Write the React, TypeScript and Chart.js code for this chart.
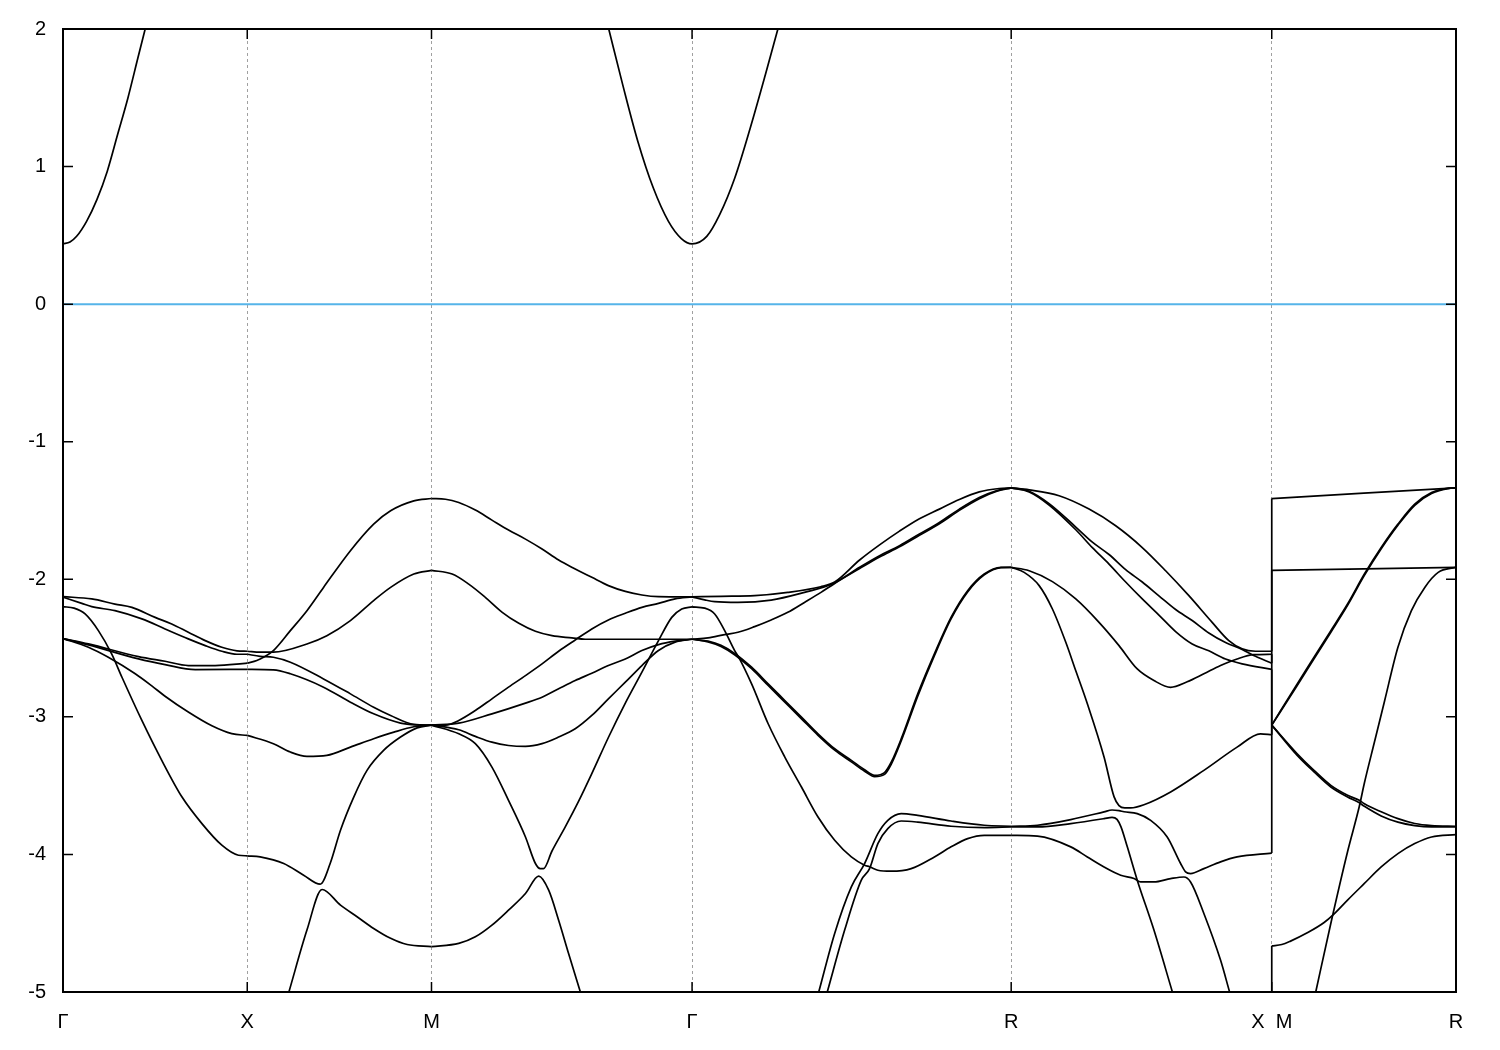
import React, { useEffect, useRef } from 'react';
import { Chart, registerables } from 'chart.js';

Chart.register(...registerables);

type P = [number, number];

// high-symmetry path (cumulative |k| distance) and labels
const kPoints = [0, 0.5, 1.0, 1.7071, 2.5731, 3.2802, 3.7802];
const kLabels = ['Γ', 'X', 'M', 'Γ', 'R', 'X\u00a0\u00a0M', 'R'];
const energyTicks = [-5, -4, -3, -2, -1, 0, 1, 2];
const fermiLevel = 0;

// ---- conduction band ----
const cbGX: P[] = [[0, 0.438], [0.019, 0.452], [0.037, 0.493], [0.064, 0.602], [0.092, 0.76], [0.12, 0.965], [0.148, 1.231], [0.176, 1.497], [0.203, 1.787], [0.223, 2.0]];
const cbMGR: P[] = [[1.481, 2.0], [1.519, 1.594], [1.56, 1.183], [1.602, 0.844], [1.643, 0.602], [1.678, 0.477], [1.7071, 0.438], [1.747, 0.493], [1.782, 0.651], [1.823, 0.917], [1.865, 1.28], [1.906, 1.667], [1.94, 2.0]];

// ---- valence bands: Γ–X ----
const vGX_a: P[] = [[0, -2.126], [0.078, -2.143], [0.141, -2.18], [0.187, -2.204], [0.25, -2.277], [0.295, -2.325], [0.34, -2.385], [0.386, -2.446], [0.431, -2.494], [0.472, -2.52], [0.5, -2.523]];
const vGX_b: P[] = [[0, -2.13], [0.051, -2.175], [0.078, -2.199], [0.141, -2.228], [0.214, -2.288], [0.277, -2.361], [0.34, -2.433], [0.386, -2.482], [0.431, -2.523], [0.472, -2.545], [0.5, -2.545]];
const vGX_c: P[] = [[0, -2.199], [0.03, -2.21], [0.06, -2.252], [0.096, -2.373], [0.132, -2.542], [0.16, -2.712], [0.214, -3.026], [0.268, -3.316], [0.323, -3.583], [0.377, -3.776], [0.431, -3.933], [0.476, -4.006], [0.5, -4.01]];
const vGX_d: P[] = [[0, -2.431], [0.069, -2.47], [0.205, -2.562], [0.277, -2.596], [0.34, -2.627], [0.413, -2.627], [0.5, -2.61]];
const vGX_e: P[] = [[0, -2.431], [0.069, -2.477], [0.205, -2.579], [0.277, -2.62], [0.359, -2.656], [0.5, -2.655]];
const vGX_f: P[] = [[0, -2.431], [0.069, -2.494], [0.123, -2.567], [0.196, -2.687], [0.241, -2.775], [0.277, -2.85], [0.34, -2.965], [0.404, -3.065], [0.458, -3.122], [0.5, -3.135]];

// ---- X–M ----
const vXM_a: P[] = [[0.5, -2.523], [0.535, -2.53], [0.571, -2.53], [0.662, -2.47], [0.716, -2.41], [0.78, -2.3], [0.843, -2.155], [0.889, -2.059], [0.952, -1.962], [1.0, -1.935]];
const vXM_b: P[] = [[0.5, -2.545], [0.535, -2.56], [0.571, -2.567], [0.617, -2.603], [0.707, -2.724], [0.78, -2.833], [0.843, -2.93], [0.889, -2.99], [0.952, -3.055], [1.0, -3.06]];
const vXM_c: P[] = [[0.5, -4.01], [0.535, -4.018], [0.599, -4.066], [0.653, -4.151], [0.698, -4.216], [0.725, -4.066], [0.753, -3.824], [0.789, -3.583], [0.825, -3.389], [0.87, -3.244], [0.916, -3.147], [0.961, -3.08], [1.0, -3.06]];
const vXM_d: P[] = [[0.5, -2.61], [0.526, -2.59], [0.544, -2.567], [0.571, -2.518], [0.617, -2.373], [0.662, -2.228], [0.707, -2.059], [0.78, -1.792], [0.843, -1.599], [0.889, -1.502], [0.952, -1.43], [1.0, -1.413]];
const vXM_e: P[] = [[0.5, -2.655], [0.571, -2.658], [0.617, -2.687], [0.707, -2.784], [0.78, -2.893], [0.843, -2.978], [0.916, -3.045], [0.961, -3.058], [1.0, -3.06]];
const vXM_f: P[] = [[0.5, -3.135], [0.571, -3.195], [0.617, -3.256], [0.662, -3.287], [0.716, -3.28], [0.78, -3.22], [0.843, -3.159], [0.898, -3.111], [0.952, -3.072], [1.0, -3.06]];
const vXM_g: P[] = [[0.613, -5.0], [0.662, -4.55], [0.703, -4.255], [0.753, -4.369], [0.798, -4.453], [0.843, -4.538], [0.889, -4.61], [0.934, -4.655], [1.0, -4.67]];

// ---- M–Γ ----
const vMG_a: P[] = [[1.0, -1.413], [1.038, -1.418], [1.074, -1.442], [1.119, -1.497], [1.164, -1.57], [1.209, -1.642], [1.255, -1.708], [1.3, -1.78], [1.345, -1.86], [1.39, -1.925], [1.435, -1.986], [1.48, -2.046], [1.526, -2.088], [1.571, -2.114], [1.616, -2.126], [1.7071, -2.128]];
const vMG_b: P[] = [[1.0, -1.935], [1.056, -1.962], [1.101, -2.035], [1.146, -2.131], [1.192, -2.24], [1.237, -2.32], [1.282, -2.378], [1.327, -2.41], [1.381, -2.426], [1.417, -2.436], [1.7071, -2.436]];
const vMG_c: P[] = [[1.0, -3.06], [1.038, -3.06], [1.074, -3.026], [1.119, -2.954], [1.164, -2.869], [1.209, -2.784], [1.255, -2.7], [1.3, -2.615], [1.345, -2.523], [1.39, -2.441], [1.435, -2.361], [1.48, -2.296], [1.526, -2.247], [1.571, -2.204], [1.616, -2.175], [1.661, -2.143], [1.7071, -2.128]];
const vMG_d: P[] = [[1.0, -3.06], [1.074, -3.046], [1.164, -2.978], [1.255, -2.9], [1.3, -2.857], [1.345, -2.796], [1.39, -2.736], [1.435, -2.683], [1.48, -2.627], [1.526, -2.579], [1.571, -2.518], [1.616, -2.475], [1.661, -2.45], [1.7071, -2.436]];
const vMG_e: P[] = [[1.0, -3.06], [1.074, -3.094], [1.119, -3.142], [1.164, -3.184], [1.209, -3.208], [1.255, -3.215], [1.3, -3.195], [1.345, -3.147], [1.39, -3.087], [1.435, -2.99], [1.48, -2.869], [1.526, -2.748], [1.571, -2.627], [1.616, -2.518], [1.661, -2.457], [1.7071, -2.436]];
const vMG_f: P[] = [[1.0, -3.06], [1.074, -3.123], [1.119, -3.195], [1.164, -3.365], [1.209, -3.607], [1.255, -3.873], [1.282, -4.066], [1.295, -4.103], [1.304, -4.103], [1.327, -3.975], [1.363, -3.8], [1.399, -3.615], [1.435, -3.413], [1.48, -3.15], [1.526, -2.9], [1.571, -2.675], [1.616, -2.446], [1.652, -2.277], [1.679, -2.216], [1.7071, -2.2]];
const vMG_g: P[] = [[1.0, -4.67], [1.074, -4.647], [1.119, -4.599], [1.164, -4.514], [1.209, -4.405], [1.255, -4.284], [1.291, -4.158], [1.318, -4.26], [1.345, -4.478], [1.372, -4.72], [1.404, -5.0]];

// ---- Γ–R ----
const vGR_a: P[] = [[1.7071, -2.128], [1.7856, -2.124], [1.8768, -2.119], [1.9669, -2.095], [2.0562, -2.054], [2.0941, -2.02], [2.1618, -1.86], [2.2159, -1.75], [2.27, -1.65], [2.3241, -1.56], [2.3783, -1.49], [2.4324, -1.42], [2.4865, -1.365], [2.5406, -1.34], [2.5731, -1.335]];
const vGR_b: P[] = [[1.7071, -2.128], [1.7415, -2.15], [1.7685, -2.163], [1.8316, -2.168], [1.9217, -2.151], [2.0121, -2.095], [2.0752, -2.046], [2.0941, -2.025], [2.1618, -1.913], [2.2159, -1.829], [2.27, -1.756], [2.3241, -1.671], [2.3783, -1.587], [2.4324, -1.49], [2.4865, -1.406], [2.5325, -1.357], [2.5731, -1.335]];
const vGR_c: P[] = [[1.7071, -2.436], [1.7504, -2.426], [1.7956, -2.402], [1.8316, -2.385], [1.8768, -2.344], [1.9217, -2.296], [1.9669, -2.24], [2.0121, -2.168], [2.057, -2.095], [2.0941, -2.03], [2.1618, -1.922], [2.2159, -1.838], [2.27, -1.764], [2.3241, -1.68], [2.3783, -1.596], [2.4324, -1.499], [2.4865, -1.414], [2.5325, -1.362], [2.5731, -1.335]];
const vGR_d: P[] = [[1.7071, -2.436], [1.7504, -2.45], [1.7856, -2.48], [1.8235, -2.54], [1.8687, -2.639], [1.9136, -2.76], [1.9588, -2.881], [2.004, -3.002], [2.0489, -3.123], [2.0941, -3.232], [2.1393, -3.316], [2.1753, -3.385], [2.2024, -3.425], [2.2294, -3.405], [2.2475, -3.33], [2.2746, -3.16], [2.3195, -2.833], [2.3647, -2.542], [2.4099, -2.277], [2.4549, -2.083], [2.5, -1.962], [2.5452, -1.913], [2.5731, -1.913]];
const vGR_e: P[] = [[1.7071, -2.436], [1.7504, -2.455], [1.7856, -2.488], [1.8235, -2.55], [1.8687, -2.65], [1.9136, -2.772], [1.9588, -2.893], [2.004, -3.014], [2.0489, -3.134], [2.0941, -3.242], [2.1393, -3.327], [2.1753, -3.395], [2.2024, -3.435], [2.2294, -3.418], [2.2475, -3.345], [2.2746, -3.175], [2.3195, -2.85], [2.3647, -2.555], [2.4099, -2.288], [2.4549, -2.092], [2.5, -1.968], [2.5452, -1.915], [2.5731, -1.913]];
const vGR_f: P[] = [[1.7071, -2.2], [1.7415, -2.21], [1.7685, -2.252], [1.7956, -2.373], [1.8227, -2.518], [1.8324, -2.56], [1.8687, -2.76], [1.9136, -3.05], [1.9588, -3.292], [2.004, -3.51], [2.0489, -3.728], [2.0941, -3.897], [2.1393, -4.018], [2.1753, -4.078], [2.1888, -4.09], [2.2113, -4.115], [2.2475, -4.122], [2.3017, -4.103], [2.3647, -4.018], [2.4099, -3.945], [2.4549, -3.885], [2.5, -3.861], [2.5731, -3.861]];
const vGR_g: P[] = [[2.0508, -5.0], [2.0941, -4.574], [2.1393, -4.236], [2.1753, -4.066], [2.2113, -3.849], [2.2383, -3.752], [2.2746, -3.703], [2.3195, -3.716], [2.4099, -3.757], [2.5, -3.788], [2.5731, -3.795]];
const vGR_h: P[] = [[2.074, -5.0], [2.1212, -4.55], [2.1664, -4.187], [2.1888, -4.103], [2.2113, -3.921], [2.2383, -3.812], [2.2746, -3.757], [2.3195, -3.765], [2.4099, -3.795], [2.5, -3.805], [2.5731, -3.8]];

// ---- R–X ----
const vRX_a: P[] = [[2.5731, -1.335], [2.6219, -1.35], [2.7031, -1.393], [2.7844, -1.49], [2.8567, -1.611], [2.9288, -1.769], [2.9922, -1.938], [3.0553, -2.119], [3.1185, -2.313], [3.1637, -2.446], [3.1998, -2.506], [3.2361, -2.523], [3.2802, -2.523]];
const vRX_b: P[] = [[2.5731, -1.335], [2.6219, -1.36], [2.676, -1.45], [2.7484, -1.62], [2.7934, -1.73], [2.8386, -1.82], [2.8838, -1.93], [2.9288, -2.02], [2.974, -2.12], [3.0193, -2.22], [3.0643, -2.3], [3.1095, -2.39], [3.1548, -2.46], [3.1998, -2.51], [3.2361, -2.56], [3.2802, -2.61]];
const vRX_c: P[] = [[2.5731, -1.335], [2.6219, -1.365], [2.676, -1.46], [2.7484, -1.64], [2.7934, -1.77], [2.8386, -1.89], [2.8838, -2.02], [2.9288, -2.143], [2.974, -2.26], [3.0193, -2.38], [3.0643, -2.47], [3.1095, -2.52], [3.1548, -2.58], [3.1998, -2.615], [3.2802, -2.655]];
const vRX_d: P[] = [[2.5731, -1.913], [2.6219, -1.938], [2.685, -2.017], [2.7484, -2.143], [2.8115, -2.313], [2.8657, -2.482], [2.9145, -2.65], [2.9605, -2.736], [3.0058, -2.785], [3.0508, -2.745], [3.096, -2.687], [3.1412, -2.627], [3.1862, -2.579], [3.2315, -2.548], [3.2802, -2.545]];
const vRX_e: P[] = [[2.5731, -1.913], [2.6083, -1.95], [2.649, -2.046], [2.685, -2.216], [2.7213, -2.458], [2.7484, -2.665], [2.7798, -2.905], [2.8251, -3.292], [2.8521, -3.58], [2.8657, -3.645], [2.8812, -3.662], [2.8974, -3.662], [2.9334, -3.639], [3.0058, -3.546], [3.096, -3.389], [3.1862, -3.22], [3.2496, -3.123], [3.2802, -3.13]];
const vRX_f: P[] = [[2.5731, -3.795], [2.6444, -3.788], [2.7348, -3.747], [2.8251, -3.691], [2.8467, -3.677], [2.8657, -3.682], [2.8792, -3.69], [2.9152, -3.703], [2.9516, -3.752], [2.9965, -3.873], [3.0328, -4.066], [3.0464, -4.127], [3.0599, -4.139], [3.096, -4.103], [3.1412, -4.054], [3.1862, -4.018], [3.2802, -3.99]];
const vRX_g: P[] = [[2.5731, -3.8], [2.6444, -3.8], [2.7348, -3.776], [2.8251, -3.74], [2.8467, -3.73], [2.8603, -3.745], [2.8711, -3.8], [2.8882, -3.945], [2.9152, -4.187], [2.9605, -4.55], [3.0106, -5.0]];
const vRX_h: P[] = [[2.5731, -3.861], [2.6444, -3.867], [2.7348, -3.945], [2.7798, -4.018], [2.8251, -4.091], [2.8703, -4.151], [2.9063, -4.175], [2.9244, -4.2], [2.9605, -4.2], [3.0058, -4.176], [3.0418, -4.164], [3.0599, -4.2], [3.096, -4.429], [3.1412, -4.768], [3.1658, -5.0]];
// band below the window at X (estimated), joins the -4.67 band at M
const vRX_i: P[] = [[3.2802, -5.5]];

// ---- M–R (after the X|M break) ----
const vMR_a: P[] = [[3.2802, -1.413], [3.7802, -1.335]];
const vMR_b: P[] = [[3.2802, -1.935], [3.7802, -1.913]];
const vMR_c: P[] = [[3.2802, -3.06], [3.3493, -2.76], [3.3949, -2.567], [3.4406, -2.373], [3.4859, -2.18], [3.5316, -1.962], [3.5772, -1.769], [3.6226, -1.599], [3.6682, -1.454], [3.7138, -1.37], [3.7592, -1.338], [3.7802, -1.335]];
const vMR_d: P[] = [[3.2802, -3.06], [3.3493, -2.772], [3.3949, -2.578], [3.4406, -2.385], [3.4859, -2.19], [3.5316, -1.972], [3.5772, -1.778], [3.6226, -1.607], [3.6682, -1.462], [3.7138, -1.377], [3.7592, -1.341], [3.7802, -1.335]];
const vMR_e: P[] = [[3.2802, -3.06], [3.3493, -3.268], [3.3949, -3.389], [3.4406, -3.498], [3.4859, -3.57], [3.5179, -3.607], [3.5316, -3.632], [3.5772, -3.69], [3.6226, -3.74], [3.6682, -3.775], [3.7138, -3.79], [3.7802, -3.795]];
const vMR_f: P[] = [[3.2802, -3.06], [3.3493, -3.28], [3.3949, -3.4], [3.4406, -3.51], [3.4859, -3.582], [3.5179, -3.625], [3.5316, -3.65], [3.5772, -3.72], [3.6226, -3.765], [3.6682, -3.79], [3.7138, -3.8], [3.7802, -3.8]];
const vMR_g: P[] = [[3.3996, -5.0], [3.4406, -4.5], [3.4859, -3.98], [3.5179, -3.65], [3.5316, -3.481], [3.5589, -3.183], [3.5862, -2.886], [3.6226, -2.494], [3.6592, -2.228], [3.6955, -2.059], [3.7319, -1.95], [3.7802, -1.913]];
const vMR_h: P[] = [[3.2802, -4.665], [3.3075, -4.655], [3.3313, -4.63], [3.3766, -4.57], [3.4223, -4.495], [3.4496, -4.432], [3.4859, -4.332], [3.5316, -4.211], [3.5772, -4.091], [3.6226, -3.994], [3.6682, -3.921], [3.7138, -3.873], [3.7802, -3.856]];

const bandCurves: P[][] = [
  cbGX, cbMGR,
  vGX_a, vGX_b, vGX_c, vGX_d, vGX_e, vGX_f,
  vXM_a, vXM_b, vXM_c, vXM_d, vXM_e, vXM_f, vXM_g,
  vMG_a, vMG_b, vMG_c, vMG_d, vMG_e, vMG_f, vMG_g,
  vGR_a, vGR_b, vGR_c, vGR_d, vGR_e, vGR_f, vGR_g, vGR_h,
  vRX_a, vRX_b, vRX_c, vRX_d, vRX_e, vRX_f, vRX_g, vRX_h,
  vMR_a, vMR_b, vMR_c, vMR_d, vMR_e, vMR_f, vMR_g, vMR_h,
];

// band connections across the X|M discontinuity (vertical jumps)
const breakPairs: [P[], P[]][] = [
  [vRX_a, vMR_a], [vRX_b, vMR_b], [vRX_d, vMR_c], [vRX_c, vMR_d], [vRX_e, vMR_e], [vRX_f, vMR_f], [vRX_i, vMR_h],
];

const FONT = 'Liberation Sans, Arial, sans-serif';

const framePlugin = {
  id: 'gnuplotFrame',
  afterDatasetsDraw(chart: any) {
    const { ctx, chartArea: a, scales } = chart;
    ctx.save();
    ctx.setLineDash([]);
    ctx.strokeStyle = '#000';
    ctx.lineWidth = 1.5;
    const tl = 10;
    ctx.beginPath();
    energyTicks.forEach((v) => {
      const y = scales.y.getPixelForValue(v);
      ctx.moveTo(a.left, y); ctx.lineTo(a.left + tl, y);
      ctx.moveTo(a.right, y); ctx.lineTo(a.right - tl, y);
    });
    kPoints.forEach((v) => {
      const x = scales.x.getPixelForValue(v);
      ctx.moveTo(x, a.bottom); ctx.lineTo(x, a.bottom - tl);
      ctx.moveTo(x, a.top); ctx.lineTo(x, a.top + tl);
    });
    ctx.stroke();
    ctx.lineWidth = 2;
    ctx.strokeRect(a.left, a.top, a.right - a.left, a.bottom - a.top);
    ctx.restore();
  },
};

export default function App() {
  const ref = useRef<HTMLCanvasElement | null>(null);
  useEffect(() => {
    document.body.style.margin = '0';
    if (!ref.current) return;
    const toXY = (arr: P[]) => arr.map(([x, y]) => ({ x, y }));
    const bandStyle = {
      borderColor: '#000',
      borderWidth: 1.7,
      pointRadius: 0,
      showLine: true,
      fill: false,
      cubicInterpolationMode: 'monotone' as const,
      clip: 0,
    };
    const datasets: any[] = [];
    const kMax = kPoints[kPoints.length - 1];
    datasets.push({
      data: [{ x: kPoints[0], y: fermiLevel }, { x: kMax, y: fermiLevel }],
      borderColor: '#56b4e9', borderWidth: 2, pointRadius: 0, showLine: true, fill: false, clip: 0,
    });
    bandCurves.forEach((c) => datasets.push({ ...bandStyle, data: toXY(c) }));
    breakPairs.forEach(([from, to]) =>
      datasets.push({
        borderColor: '#000', borderWidth: 1.7, pointRadius: 0, showLine: true, fill: false, clip: 0, tension: 0,
        data: toXY([from[from.length - 1], to[0]]),
      })
    );

    const chart = new Chart(ref.current, {
      type: 'scatter',
      data: { datasets },
      options: {
        responsive: false,
        animation: false,
        events: [],
        layout: { padding: { top: 28, right: 44, left: 0, bottom: 0 } },
        plugins: { legend: { display: false }, tooltip: { enabled: false } },
        scales: {
          x: {
            type: 'linear',
            min: 0,
            max: kMax,
            afterBuildTicks: (s: any) => { s.ticks = kPoints.map((v) => ({ value: v })); },
            afterFit: (s: any) => { s.height = 58; },
            ticks: {
              autoSkip: false, maxRotation: 0, minRotation: 0, padding: 18, color: '#000',
              font: { family: FONT, size: 20 },
              callback: (_v: any, i: number) => kLabels[i],
            },
            grid: { color: '#a0a0a0', lineWidth: 1, drawTicks: false, drawOnChartArea: true },
            border: { display: false, dash: [3, 3] },
          },
          y: {
            type: 'linear',
            min: -5,
            max: 2,
            afterBuildTicks: (s: any) => { s.ticks = energyTicks.map((v) => ({ value: v })); },
            afterFit: (s: any) => { s.width = 63; },
            ticks: {
              padding: 17, color: '#000',
              font: { family: FONT, size: 20 },
              callback: (v: any) => String(v),
            },
            grid: { display: false, drawTicks: false },
            border: { display: false },
          },
        },
      },
      plugins: [framePlugin],
    } as any);
    return () => chart.destroy();
  }, []);
  return (
    <div style={{ width: 1500, height: 1050, background: '#fff' }}>
      <canvas ref={ref} width={1500} height={1050} style={{ display: 'block' }} />
    </div>
  );
}
